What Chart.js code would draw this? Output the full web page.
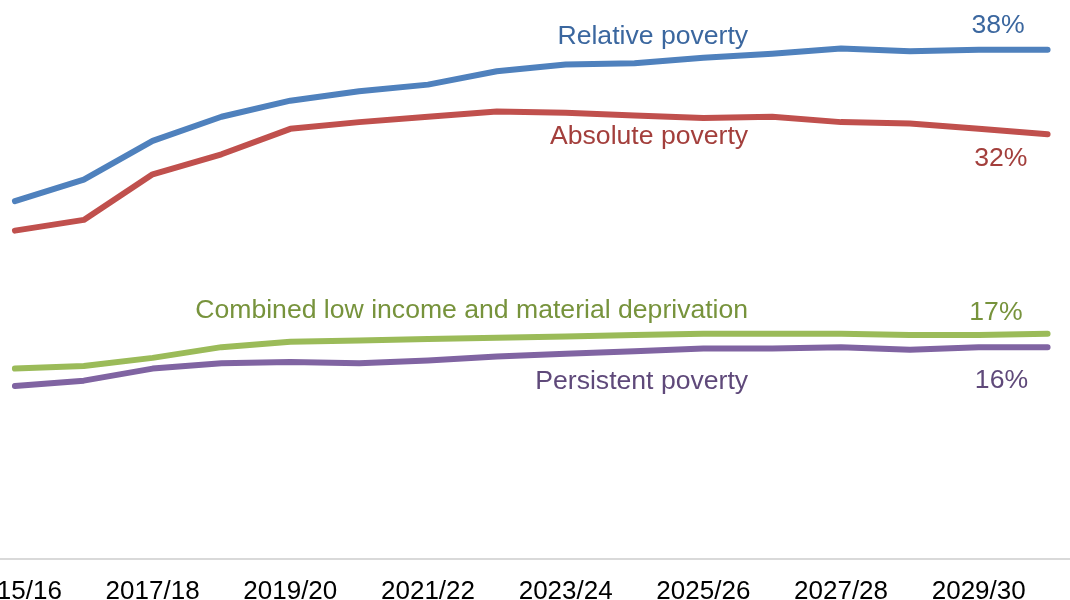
<!DOCTYPE html>
<html>
<head>
<meta charset="utf-8">
<script src="https://cdn.jsdelivr.net/npm/chart.js@4/dist/chart.umd.min.js"></script>
<style>
  html, body { margin: 0; padding: 0; background: #fff; overflow: hidden; width: 1070px; height: 600px; }
  #wrap { position: absolute; left: -50px; top: 0; width: 1140px; height: 624px; }
</style>
</head>
<body>
<div id="wrap"><canvas id="povertyChart"></canvas></div>
<script>
const years = ["2015/16", "2016/17", "2017/18", "2018/19", "2019/20", "2020/21", "2021/22", "2022/23",
  "2023/24", "2024/25", "2025/26", "2026/27", "2027/28", "2028/29", "2029/30", "2030/31"];

const relativePoverty = [26.7, 28.3, 31.2, 33.0, 34.2, 34.9, 35.4, 36.4, 36.9, 37.0, 37.4, 37.7, 38.1, 37.9, 38.0, 38.0];
const absolutePoverty = [24.5, 25.3, 28.7, 30.2, 32.1, 32.6, 33.0, 33.4, 33.3, 33.1, 32.9, 33.0, 32.6, 32.5, 32.1, 31.7];
const combinedLowIncome = [14.2, 14.4, 15.0, 15.8, 16.2, 16.3, 16.4, 16.5, 16.6, 16.7, 16.8, 16.8, 16.8, 16.7, 16.7, 16.8];
const persistentPoverty = [12.9, 13.3, 14.2, 14.6, 14.7, 14.6, 14.8, 15.1, 15.3, 15.5, 15.7, 15.7, 15.8, 15.6, 15.8, 15.8];

// text written on the chart: [text, x (category index), y (%), align, colour]
const annotations = [
  ["Relative poverty", 10.65, 39.0, "right", "#3b679f"],
  ["38%", 14.28, 39.8, "center", "#3b679f"],
  ["Absolute poverty", 10.65, 31.5, "right", "#a33f3c"],
  ["32%", 14.32, 29.9, "center", "#a33f3c"],
  ["Combined low income and material deprivation", 10.65, 18.5, "right", "#77933c"],
  ["17%", 14.25, 18.4, "center", "#77933c"],
  ["Persistent poverty", 10.65, 13.2, "right", "#5f497a"],
  ["16%", 14.33, 13.3, "center", "#5f497a"]
];

const labelPlugin = {
  id: "lineLabels",
  afterDatasetsDraw(chart) {
    const ctx = chart.ctx;
    const x = chart.scales.x, y = chart.scales.y;
    ctx.save();
    ctx.font = "26.6px 'Liberation Sans', Arial, sans-serif";
    ctx.textBaseline = "middle";
    annotations.forEach(([text, xi, yv, align, color]) => {
      ctx.fillStyle = color;
      ctx.textAlign = align;
      ctx.fillText(text, x.getPixelForValue(xi), y.getPixelForValue(yv));
    });
    ctx.restore();
  }
};

function series(label, data, color) {
  return {
    label: label,
    data: data,
    borderColor: color,
    backgroundColor: color,
    borderWidth: 6,
    pointRadius: 0,
    tension: 0,
    borderCapStyle: "round",
    borderJoinStyle: "round"
  };
}

new Chart(document.getElementById("povertyChart"), {
  type: "line",
  data: {
    labels: years,
    datasets: [
      series("Relative poverty", relativePoverty, "#4f81bd"),
      series("Absolute poverty", absolutePoverty, "#c0504d"),
      series("Combined low income and material deprivation", combinedLowIncome, "#9bbb59"),
      series("Persistent poverty", persistentPoverty, "#8064a2")
    ]
  },
  options: {
    responsive: true,
    maintainAspectRatio: false,
    animation: false,
    layout: { padding: { left: 30, right: 8, top: 23, bottom: 0 } },
    plugins: {
      legend: { display: false },
      tooltip: { enabled: false }
    },
    scales: {
      x: {
        offset: true,
        grid: { display: false, drawTicks: false },
        border: { display: true, color: "#d9d9d9", width: 2 },
        ticks: {
          autoSkip: false,
          maxRotation: 0,
          padding: 17,
          color: "#000",
          font: { family: "'Liberation Sans', Arial, sans-serif", size: 26 },
          callback: function (value, index) { return index % 2 === 0 ? this.getLabelForValue(value) : ""; }
        }
      },
      y: {
        display: false,
        min: 0,
        max: 40
      }
    }
  },
  plugins: [labelPlugin]
});
</script>
</body>
</html>
